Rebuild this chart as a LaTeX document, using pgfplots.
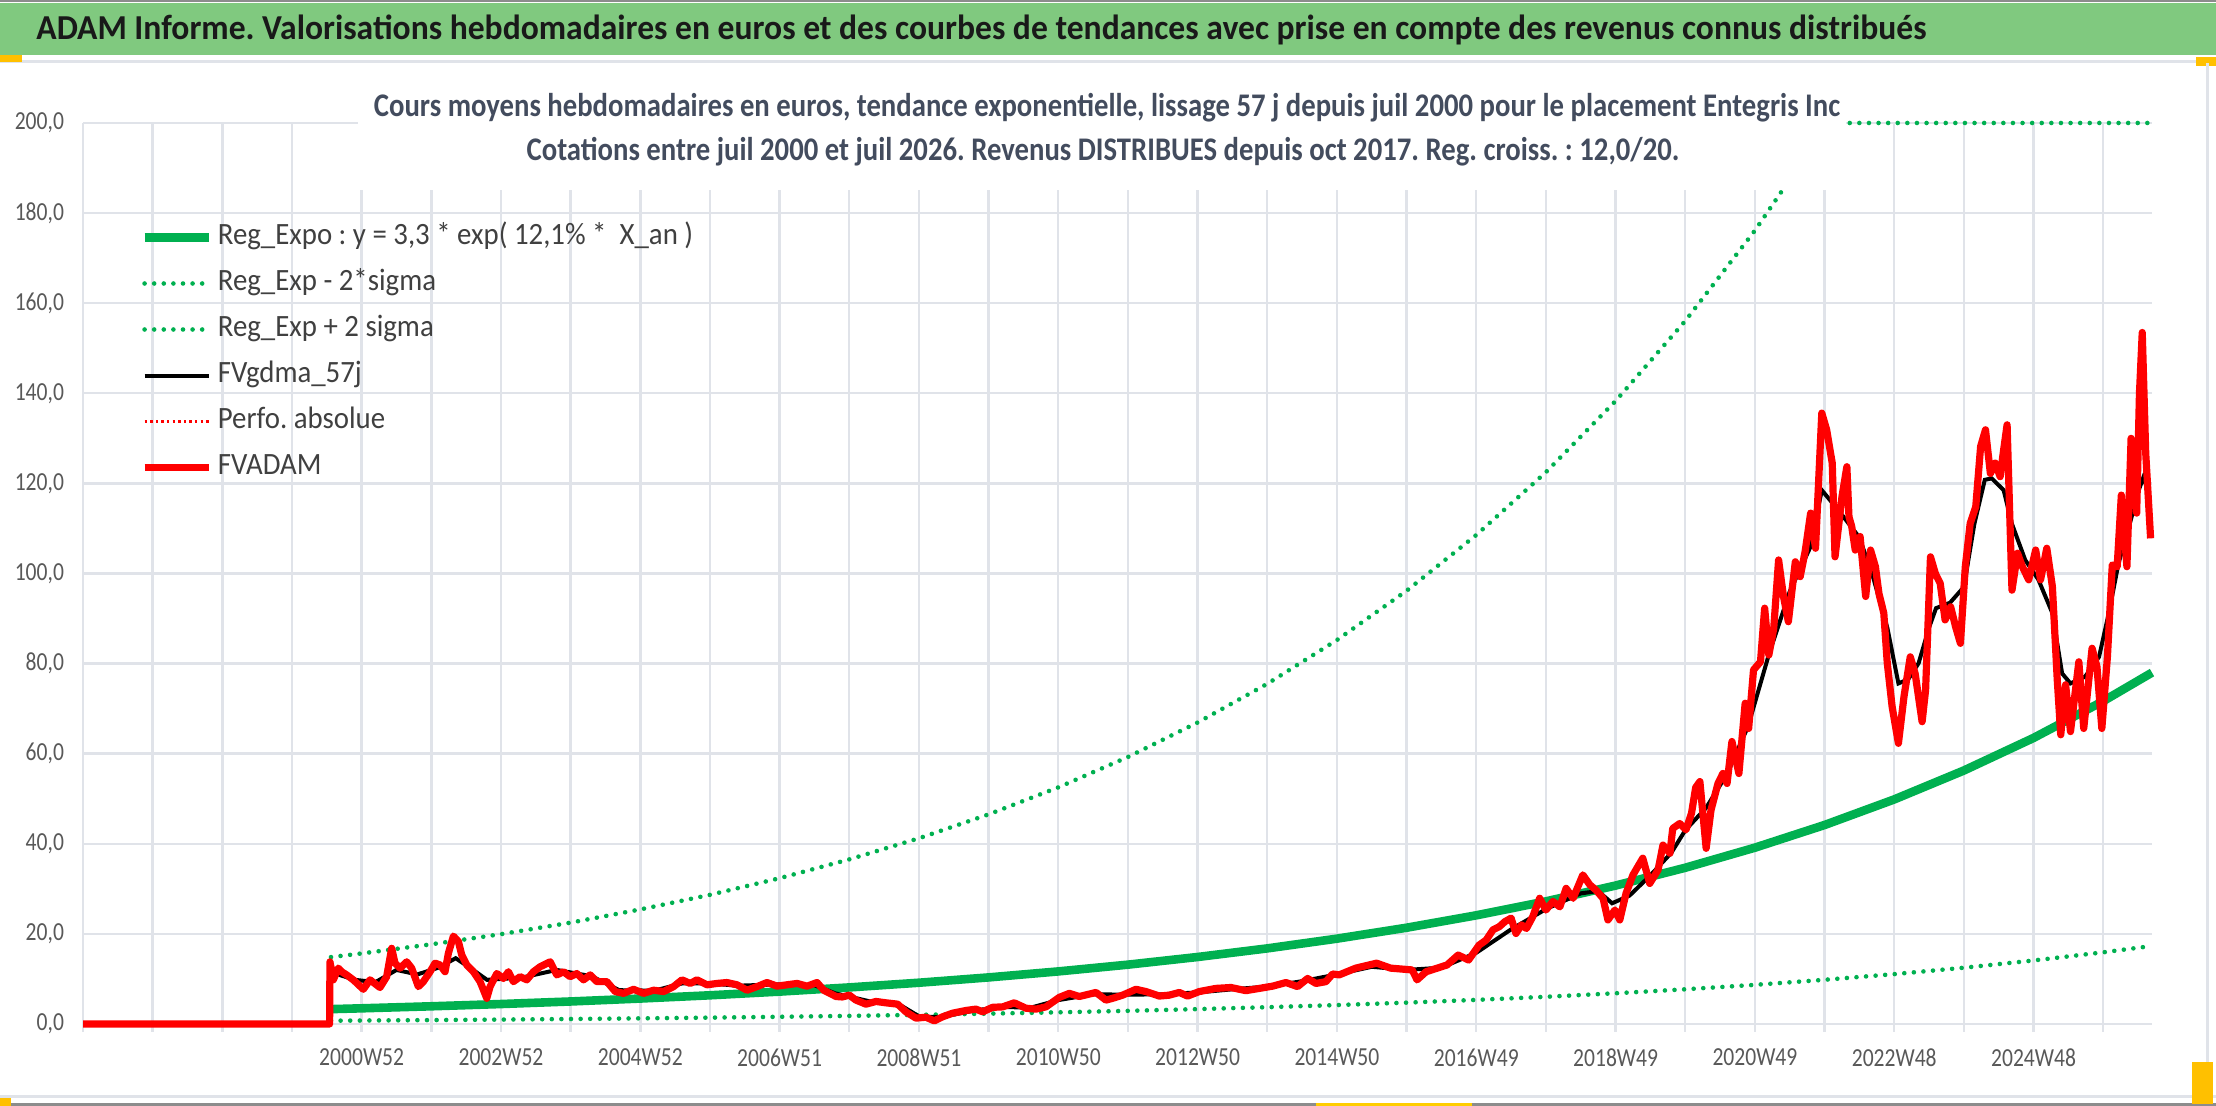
\documentclass[border=0pt]{standalone}
\usepackage{fontspec}
\setmainfont{Carlito}[FakeStretch=0.83]
\newfontfamily\titlefont{Carlito}[FakeStretch=0.96]
\newfontfamily\subfont{Carlito}[FakeStretch=0.87]
\newfontfamily\legfont{Carlito}[FakeStretch=0.93]
\usepackage{pgfplots}
\pgfplotsset{compat=1.18}
\frenchspacing
\definecolor{bandgreen}{HTML}{80C97F}
\definecolor{xlgreen}{HTML}{00B050}
\definecolor{gridc}{HTML}{E0E3E9}
\definecolor{tickc}{HTML}{595959}
\definecolor{legc}{HTML}{404040}
\definecolor{subc}{HTML}{434C5E}
\definecolor{orangeh}{HTML}{FFC000}
\begin{document}
\begin{tikzpicture}
\useasboundingbox (0,0) rectangle (1108pt,553pt);
\fill[white] (0,0) rectangle (1108pt,553pt);
\begin{scope}[x=0.5pt,y=-0.5pt,yshift=553pt]
 \fill[black!45] (0,0) rectangle (2216,2.5);
 \fill[bandgreen] (0,3) rectangle (2216,55);
 \fill[gridc] (0,60) rectangle (2216,63);
 \fill[orangeh] (0,55) rectangle (22,62);
 \fill[orangeh] (2196,57) rectangle (2216,66);
 \node[anchor=base west, inner sep=0pt, text=black!90, font=\titlefont\bfseries\fontsize{17.5pt}{20pt}\selectfont] at (36,40) {ADAM Informe. Valorisations hebdomadaires en euros et des courbes de tendances avec prise en compte des revenus connus distribués};
 \fill[gridc] (0,1095) rectangle (2216,1098);
 \fill[black!45] (0,1103) rectangle (2216,1106);
 \fill[gridc] (2206,63) rectangle (2209,1098);
 \fill[orangeh] (2192,1062) rectangle (2213,1104);
 \fill[orangeh] (0,1098) rectangle (11,1106);
 \fill[orangeh!80!yellow] (1316,1103) rectangle (1472,1106);
\end{scope}
\begin{axis}[
 at={(41.5pt,41pt)}, anchor=south west,
 scale only axis, width=1034.5pt, height=450.5pt,
 xmin=0, xmax=29.7, ymin=0, ymax=200,
 clip=false,
 axis line style={draw=none},
 xtick={4,6,...,28},
 xticklabels={2000W52,2002W52,2004W52,2006W51,2008W51,2010W50,2012W50,2014W50,2016W49,2018W49,2020W49,2022W48,2024W48},
 minor xtick={0,...,29},
 ytick={0,20,...,200},
 xmajorgrids, xminorgrids, ymajorgrids,
 grid style={gridc, line width=1.2pt},
 minor grid style={gridc, line width=1.2pt},
 tick align=outside, xtick pos=left,
 major tick length=4pt, minor tick length=4pt,
 tick style={gridc, line width=1.2pt},
 ytick style={draw=none},
 ticklabel style={font=\fontsize{13pt}{15pt}\selectfont, text=tickc},
 xticklabel style={yshift=-5pt},
 yticklabel style={xshift=-2pt},
 /pgf/number format/fixed, /pgf/number format/fixed zerofill,
 /pgf/number format/precision=1, /pgf/number format/use comma,
 /pgf/number format/assume math mode=true,
 legend style={at={(axis description cs:0.0275,0.89)}, anchor=north west, draw=none, fill=none, inner sep=0pt, row sep=8pt, column sep=2.5pt, font=\legfont\fontsize{15.5pt}{18pt}\selectfont, text=legc, nodes={inner sep=0pt, text height=11pt, text depth=4pt}},
 legend cell align=left,
 legend image code/.code={\draw[#1] (0pt,0pt) -- (32pt,0pt);},
]
% Reg_Expo
\addplot[xlgreen, line width=4.3pt] coordinates {
(3.56,3.30) (4,3.48) (5,3.93) (6,4.43) (7,5.00) (8,5.65) (9,6.37) (10,7.19) (11,8.12) (12,9.16) (13,10.34) (14,11.67) (15,13.17) (16,14.87) (17,16.78) (18,18.94) (19,21.37) (20,24.12) (21,27.22) (22,30.73) (23,34.68) (24,39.14) (25,44.17) (26,49.85) (27,56.27) (28,63.50) (29,71.67) (29.7,78.0)};
\addlegendentry{Reg\_Expo : y = 3,3 * exp( 12,1\% *\ \ X\_an )}
% Reg_Exp - 2 sigma
\addplot[xlgreen, line width=2.3pt, line cap=round, dash pattern=on 0pt off 4.8pt] coordinates {
(3.56,0.73) (4,0.77) (5,0.87) (6,0.98) (7,1.11) (8,1.25) (9,1.41) (10,1.60) (11,1.80) (12,2.03) (13,2.30) (14,2.59) (15,2.92) (16,3.30) (17,3.73) (18,4.20) (19,4.74) (20,5.35) (21,6.04) (22,6.82) (23,7.70) (24,8.69) (25,9.81) (26,11.07) (27,12.49) (28,14.10) (29,15.91) (29.7,17.32)};
\addlegendentry{Reg\_Exp - 2*sigma}
% Reg_Exp + 2 sigma
\addplot[xlgreen, line width=2.3pt, line cap=round, dash pattern=on 0pt off 4.8pt] coordinates {
(3.56,14.85) (4,15.66) (5,17.69) (6,19.94) (7,22.50) (8,25.43) (9,28.67) (10,32.36) (11,36.54) (12,41.22) (13,46.53) (14,52.52) (15,59.27) (16,66.92) (17,75.51) (18,85.23) (19,96.17) (20,108.54) (21,122.49) (22,138.29) (23,156.06) (24,176.13) (25,198.77) (25.05,200) (29.7,200)};
\addlegendentry{Reg\_Exp + 2 sigma}
% FVgdma_57j
\addplot[black, line width=2pt] coordinates {
(3.56,11.5) (3.9,9.8) (4.2,9.3) (4.5,12.0) (4.8,11.0) (5.1,12.5) (5.35,14.6) (5.6,12.0) (5.8,9.8) (6.3,10.3) (6.8,12.0) (7.3,10.6) (7.7,7.5) (8.2,7.4) (8.6,9.0) (9.0,9.0) (9.4,8.5) (10.0,8.8) (10.5,8.6) (10.8,6.8) (11.3,5.0) (11.7,4.5) (12.0,1.7) (12.3,1.5) (12.8,3.0) (13.2,3.8) (13.6,3.6) (14.0,5.3) (14.5,6.6) (15.0,6.5) (15.5,6.6) (16.0,7.0) (16.5,7.7) (17.0,8.3) (17.5,9.5) (18.0,11.0) (18.5,12.7) (19.0,12.0) (19.5,12.5) (20.0,15.8) (20.5,21.0) (21.0,25.5) (21.5,29.0) (21.75,29.5) (21.95,26.8) (22.2,28.5) (22.5,33.0) (22.8,38.0) (23.0,43.0) (23.3,48.0) (23.6,55.5) (23.9,66.0) (24.2,82.0) (24.5,96.0) (24.8,106.0) (24.96,118.5) (25.2,114.0) (25.5,108.0) (25.7,99.0) (25.9,88.0) (26.06,75.6) (26.2,76.5) (26.35,80.1) (26.5,88.0) (26.6,92.3) (26.8,93.5) (27.0,97.0) (27.15,111.0) (27.3,120.8) (27.4,121.1) (27.57,118.5) (27.69,111.0) (27.88,103.0) (28.07,98.6) (28.27,91.2) (28.41,77.8) (28.53,75.6) (28.74,77.1) (28.94,81.5) (29.08,91.2) (29.22,102.3) (29.37,110.4) (29.51,118.5) (29.58,121.5) (29.65,117.8)};
\addlegendentry{FVgdma\_57j}
\addlegendimage{red, line width=1.2pt, dash pattern=on 1.2pt off 1.6pt}
\addlegendentry{Perfo. absolue}
% FVADAM
\addplot[red, line width=3.6pt, line join=round] coordinates {
(0,0) (3.54,0) (3.545,13.8) (3.593,9.8) (3.665,12.4) (3.713,11.6) (3.784,10.9) (3.880,9.8) (4.024,7.7) (4.120,9.8) (4.263,8.1) (4.359,10.5) (4.431,16.8) (4.479,13.5) (4.551,12.4) (4.647,13.8) (4.718,12.4) (4.814,8.3) (4.886,9.4) (4.982,11.6) (5.054,13.5) (5.125,13.1) (5.197,11.6) (5.245,15.7) (5.317,19.5) (5.389,18.3) (5.437,15.3) (5.509,13.1) (5.604,11.6) (5.700,9.4) (5.796,5.7) (5.844,8.3) (5.940,11.2) (6.035,10.1) (6.107,11.6) (6.179,9.4) (6.275,10.5) (6.371,9.8) (6.466,11.6) (6.562,12.7) (6.706,13.8) (6.802,10.9) (6.897,11.6) (6.993,10.5) (7.089,11.2) (7.185,9.8) (7.281,10.9) (7.376,9.4) (7.520,9.4) (7.640,7.2) (7.760,6.8) (7.903,7.7) (8.047,6.8) (8.191,7.5) (8.334,7.2) (8.478,8.3) (8.598,9.8) (8.717,9.0) (8.813,9.8) (8.957,8.7) (9.101,9.0) (9.244,9.2) (9.388,8.7) (9.532,7.5) (9.675,8.3) (9.819,9.2) (9.963,8.4) (10.106,8.7) (10.250,9.0) (10.394,8.4) (10.537,9.2) (10.633,7.5) (10.72,6.8) (10.81,6.1) (10.9,6.0) (11.0,6.4) (11.096,5.3) (11.239,4.4) (11.383,5.0) (11.526,4.7) (11.694,4.4) (11.813,2.7) (11.957,1.3) (12.100,1.5) (12.220,0.7) (12.340,1.6) (12.483,2.4) (12.675,3.0) (12.818,3.3) (12.914,2.7) (13.057,3.7) (13.201,3.8) (13.368,4.7) (13.536,3.5) (13.679,3.3) (13.823,3.8) (14.014,5.9) (14.158,6.8) (14.301,6.1) (14.541,7.0) (14.684,5.3) (14.780,5.7) (14.923,6.4) (15.115,7.7) (15.258,7.2) (15.450,6.2) (15.593,6.4) (15.737,7.0) (15.856,6.2) (16.024,7.2) (16.263,7.9) (16.478,8.1) (16.694,7.4) (16.885,7.9) (17.077,8.4) (17.268,9.2) (17.435,8.3) (17.579,10.1) (17.699,9.0) (17.842,9.4) (17.938,11.1) (18.033,10.9) (18.27,12.4) (18.57,13.5) (18.77,12.4) (19.08,12.0) (19.15,9.8) (19.28,11.6) (19.58,13.1) (19.74,15.3) (19.89,14.2) (20.04,17.5) (20.14,18.6) (20.24,20.9) (20.33,21.6) (20.41,22.7) (20.50,23.5) (20.57,20.1) (20.65,22.0) (20.72,21.2) (20.81,23.8) (20.91,27.9) (21.00,25.3) (21.10,27.2) (21.20,26.0) (21.29,30.1) (21.39,27.9) (21.53,33.1) (21.63,30.9) (21.72,29.7) (21.82,27.9) (21.89,23.1) (21.99,25.3) (22.06,23.1) (22.15,29.0) (22.25,33.1) (22.39,36.8) (22.49,31.2) (22.61,34.2) (22.68,39.7) (22.78,37.9) (22.82,43.4) (22.92,44.5) (23.01,43.1) (23.09,46.8) (23.15,52.5) (23.21,53.8) (23.30,39.0) (23.37,47.5) (23.47,53.4) (23.54,55.6) (23.60,53.4) (23.67,62.7) (23.77,55.6) (23.86,71.2) (23.91,65.6) (23.98,78.6) (24.08,80.4) (24.14,92.3) (24.20,81.9) (24.27,87.8) (24.34,103.0) (24.41,94.9) (24.48,89.3) (24.58,102.6) (24.65,99.3) (24.72,104.8) (24.80,113.4) (24.87,105.6) (24.96,135.6) (25.03,131.9) (25.11,124.5) (25.15,103.7) (25.25,117.1) (25.32,123.7) (25.35,112.6) (25.39,110.4) (25.44,105.2) (25.51,108.2) (25.59,94.9) (25.66,105.2) (25.73,101.5) (25.78,95.6) (25.85,91.2) (25.90,80.1) (25.97,70.4) (26.06,62.3) (26.14,72.7) (26.23,81.5) (26.30,77.8) (26.40,67.1) (26.45,74.1) (26.52,103.7) (26.59,100.0) (26.66,97.8) (26.73,89.7) (26.81,92.6) (26.88,88.2) (26.95,84.5) (27.02,101.5) (27.09,111.1) (27.17,114.8) (27.24,128.2) (27.31,131.9) (27.38,122.2) (27.45,124.5) (27.52,121.5) (27.57,127.4) (27.62,133.0) (27.69,96.3) (27.77,104.5) (27.84,101.5) (27.93,98.6) (28.03,105.2) (28.10,98.6) (28.19,105.6) (28.27,97.1) (28.34,76.4) (28.39,64.2) (28.46,75.3) (28.53,64.9) (28.65,80.4) (28.72,65.6) (28.84,83.4) (28.91,79.3) (28.98,65.6) (29.06,81.5) (29.13,101.9) (29.20,101.5) (29.26,117.4) (29.34,101.5) (29.40,130.0) (29.48,113.4) (29.52,140.0) (29.56,153.5) (29.61,126.7) (29.68,107.8)};
\addlegendentry{FVADAM}
\end{axis}
\begin{scope}[x=0.5pt,y=-0.5pt,yshift=553pt]
 \fill[white] (358,70) rectangle (1846,190);
 \node[anchor=base, inner sep=0pt, text=subc, font=\subfont\bfseries\fontsize{16.5pt}{19pt}\selectfont] at (1107,117) {Cours moyens hebdomadaires en euros, tendance exponentielle, lissage 57 j depuis juil 2000 pour le placement Entegris Inc};
 \node[anchor=base, inner sep=0pt, text=subc, font=\subfont\bfseries\fontsize{16.5pt}{19pt}\selectfont] at (1103,161) {Cotations entre juil 2000 et juil 2026. Revenus DISTRIBUES depuis oct 2017. Reg. croiss. : 12,0/20.};
\end{scope}
\end{tikzpicture}
\end{document}
